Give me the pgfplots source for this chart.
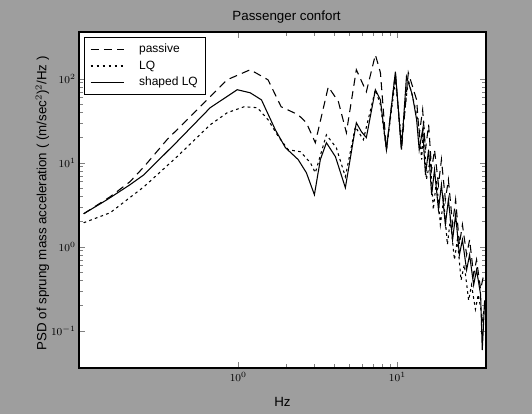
\documentclass[border=0pt]{standalone}
\usepackage{pgfplots}
\pgfplotsset{compat=1.18}
\usepackage{fontspec}
\setmainfont{Liberation Sans}
\begin{document}
\begin{tikzpicture}
\fill[black!38] (-59.25pt,-34.5pt) rectangle (339.75pt,276pt);
\begin{axis}[
  at={(0,0)}, anchor=south west,
  scale only axis, width=305.25pt, height=252pt,
  xmode=log, ymode=log,
  xmin=0.1, xmax=36, ymin=0.036, ymax=360,
  axis background/.style={fill=white},
  axis line style={line width=0.8pt},
  tick align=inside,
  xtick={1,10}, ytick={0.1,1,10,100},
  /pgf/number format/assume math mode=true,
  tick label style={font=\footnotesize},
  yticklabel style={xshift=1pt},
  every axis title shift=0pt,
  title={Passenger confort},
  title style={at={(axis description cs:0.51,1.045)}, anchor=center, font=\normalsize},
  xlabel={Hz},
  xlabel style={at={(axis description cs:0.5,-0.10)}, anchor=center},
  ylabel={PSD of sprung mass acceleration ( (m/sec$^2$)$^2$/Hz )},
  ylabel style={at={(axis description cs:-0.09,0.49)}, anchor=center},
  legend style={at={(axis description cs:0.013,0.985)}, anchor=north west, font=\small, draw=black, line width=0.6pt, legend cell align=left, inner xsep=4pt, inner ysep=3pt, row sep=0.5pt, column sep=9pt},
  legend image code/.code={\draw[#1] (0pt,0pt) -- (25pt,0pt);},
]
\addplot[black, line width=0.8pt, dash pattern=on 6pt off 4pt] coordinates {
(0.107,2.47) (0.157,3.94) (0.209,5.94) (0.256,8.96) (0.357,18.8) (0.529,39.4) (0.853,97.3) (1.19,128) (1.54,97) (1.86,46.4) (2.38,37.3) (2.68,29.9) (3.05,17.3) (3.68,80.3) (4.26,53.2) (4.78,22.8) (5.52,128) (6.38,70) (7.27,193) (7.82,118) (8.53,14.3) (9.71,118) (10.6,14.3) (11.7,118) (13.2,56) (13.7,21.5) (14.4,42.7) (15.0,14.3) (15.7,28.3) (16.4,8.26) (17.1,14.3) (18.1,5.47) (18.9,10.9) (20.0,3.63) (20.9,6.28) (22.2,1.83) (23.2,3.63) (24.5,1.06) (25.6,1.83) (27.2,0.80) (28.4,1.21) (30.1,0.46) (31.4,0.70) (33.3,0.31) (34.8,0.46)
};
\addlegendentry{passive}
\addplot[black, line width=0.8pt, dash pattern=on 2pt off 2.5pt] coordinates {
(0.107,1.93) (0.157,2.54) (0.256,5.18) (0.413,11.8) (0.667,28.3) (0.853,39.4) (1.09,46.4) (1.32,45.2) (1.54,32.5) (1.79,20.4) (2.06,14.3) (2.46,13.5) (2.84,10) (3.05,7.6) (3.58,21.5) (4.13,15.1) (4.71,6.81) (5.44,26.8) (6.11,18.8) (7.27,74) (7.82,49) (8.53,14.3) (9.71,97) (10.6,18.8) (11.7,97) (12.8,49) (13.6,28.3) (14.2,10.9) (14.6,32.5) (15.2,6.28) (16.1,10.9) (16.8,2.76) (17.6,6.28) (18.6,1.83) (19.5,3.63) (20.6,1.06) (21.5,2.10) (22.8,0.70) (23.8,1.21) (25.1,0.40) (26.3,0.61) (28.0,0.23) (29.2,0.35) (30.9,0.18) (32.2,0.27) (34.3,0.135) (35.3,0.20)
};
\addlegendentry{LQ}
\addplot[black, line width=0.8pt] coordinates {
(0.107,2.47) (0.150,3.63) (0.209,5.47) (0.256,7.2) (0.413,17.8) (0.667,45.2) (0.986,74) (1.19,68) (1.40,56) (1.71,24.7) (1.98,15.1) (2.38,10.9) (2.68,7.6) (3.01,4.16) (3.28,10.9) (3.58,17.3) (4.08,11.8) (4.71,5.04) (5.29,18.8) (5.52,29.9) (5.94,23.4) (6.38,19.9) (7.27,74) (7.82,56) (8.53,14.3) (9.71,121) (10.6,14.3) (11.4,106) (12.4,64.5) (13.2,32.5) (13.7,14.3) (14.4,24.7) (15.0,7.2) (15.7,14.3) (16.4,4.16) (17.1,8.26) (18.1,2.76) (18.9,5.47) (20.0,1.83) (20.9,3.63) (22.2,1.21) (23.2,2.40) (24.5,0.80) (25.6,1.21) (27.2,0.53) (28.4,0.80) (30.1,0.35) (31.4,0.53) (33.3,0.27) (34.1,0.059) (34.6,0.103) (35.3,0.23)
};
\addlegendentry{shaped LQ}
\end{axis}
\end{tikzpicture}
\end{document}
